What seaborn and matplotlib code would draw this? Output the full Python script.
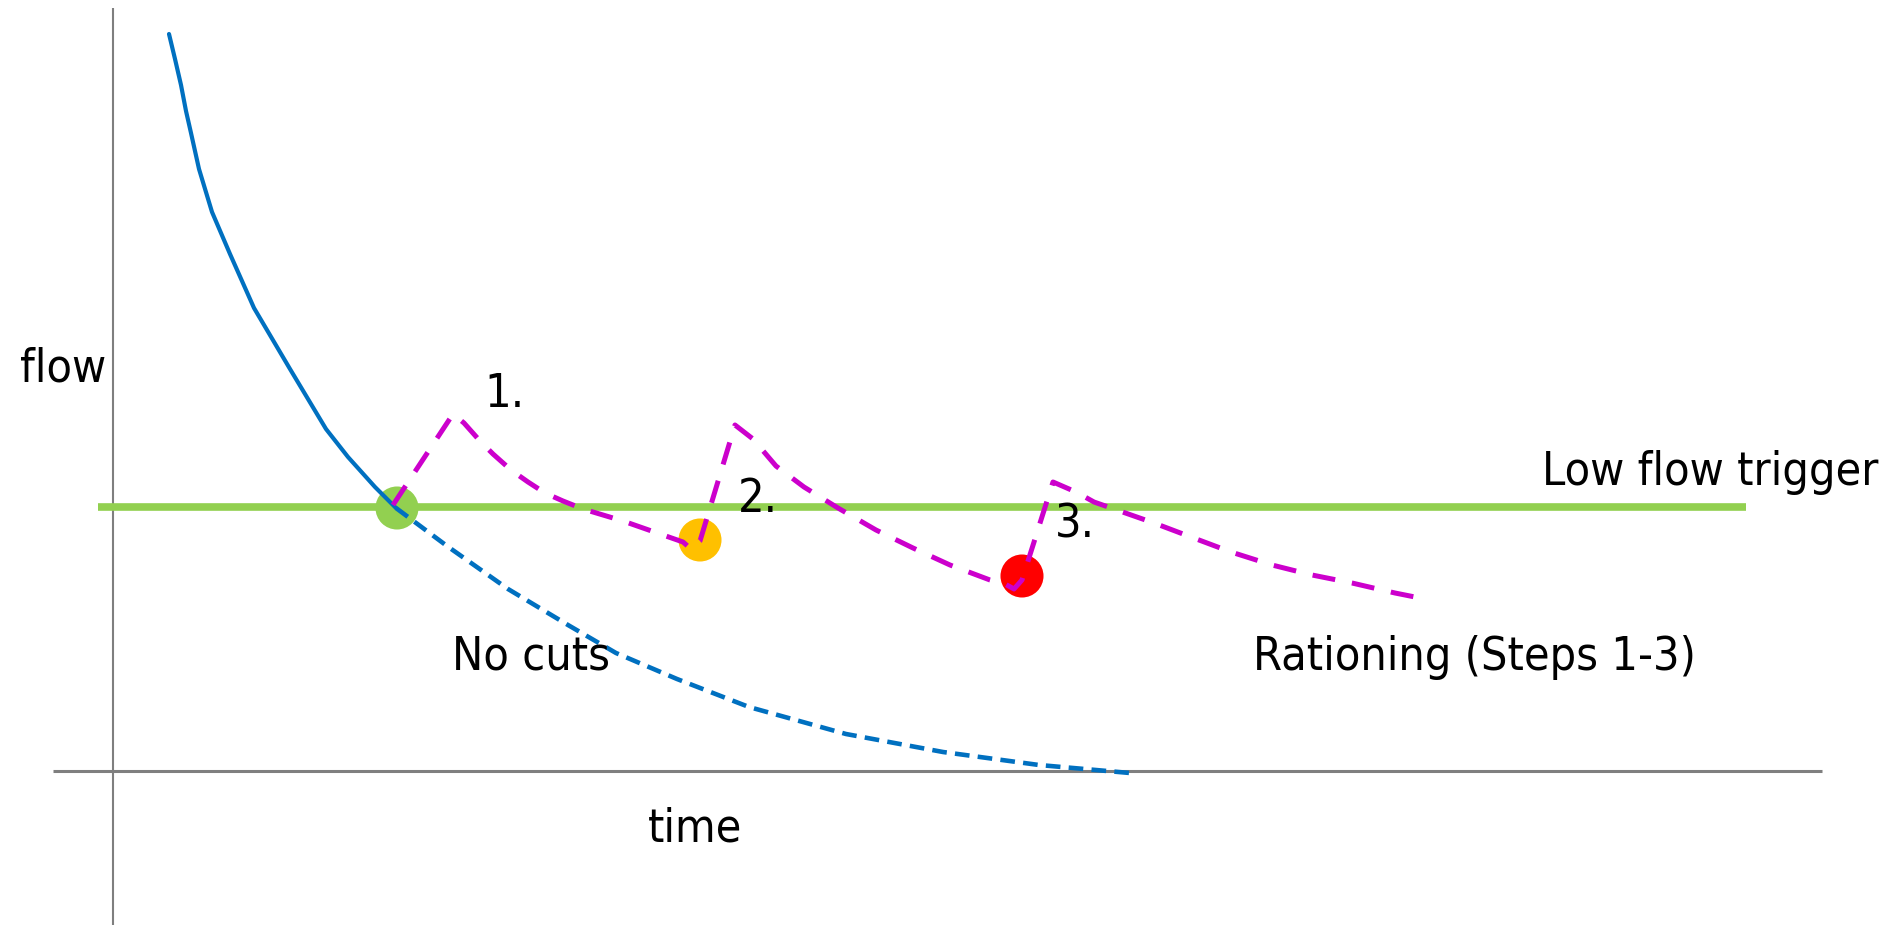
import matplotlib
matplotlib.use("Agg")
import matplotlib.pyplot as plt
import seaborn as sns

# ---------------- data (time, flow) ----------------
no_cuts_solid_t = [56, 62, 68, 73, 78, 86, 99, 117, 141, 177, 213, 235, 262, 283]
no_cuts_solid_f = [737, 712, 686, 660, 638, 602, 559, 517, 463, 402, 342, 314, 284, 263]

no_cuts_dash_t = [283, 334, 395, 455, 503, 564, 636, 733, 830, 926, 1017]
no_cuts_dash_f = [263, 225, 182, 146, 118, 92, 64, 37, 19, 6, -2]

ration_t = [280, 340, 351, 367, 380, 398, 415, 432, 450, 470, 490, 510, 530, 550,
            570, 578, 587, 622, 640, 663, 691, 725, 763, 800, 837, 877, 892,
            901, 909, 940, 963, 981, 1001, 1041, 1078, 1118, 1159, 1199, 1239,
            1282, 1317]
ration_f = [266, 357, 348, 330, 317, 301, 289, 278, 270, 262, 256, 250, 243, 236,
            229, 222, 230, 346, 332, 305, 284, 263, 241, 223, 206, 191, 187,
            182, 191, 289, 279, 269, 262, 248, 234, 219, 206, 196, 188,
            178, 171]

trigger_t = [-15, 1633]
trigger_f = [264, 264]

step_t = [284, 587, 909]
step_f = [263, 231, 195]
step_colors = ["#92D050", "#FFC000", "#FF0000"]

step_labels = ["1.", "2.", "3."]
step_label_t = [371, 625, 942]
step_label_f = [364, 259, 233]

# axes extents
xaxis_t = [-60, 1709]
yaxis_f = [-154, 763]

sns.set_theme(style="white")
plt.rcParams["font.family"] = ["DejaVu Sans"]

fig = plt.figure(figsize=(18.95, 9.25), dpi=100)
ax = fig.add_axes([0, 0, 1, 1])
ax.set_xlim(-113, 1782)
ax.set_ylim(-154, 771)
ax.axis("off")

# coordinate axes
ax.plot(xaxis_t, [0, 0], color="#7F7F7F", lw=2.2, solid_capstyle="butt", zorder=1)
ax.plot([0, 0], yaxis_f, color="#7F7F7F", lw=1.5, solid_capstyle="butt", zorder=1)

# low flow trigger
sns.lineplot(x=trigger_t, y=trigger_f, ax=ax, color="#92D050", lw=5.5, zorder=2)
ax.lines[-1].set_solid_capstyle("butt")

# step markers
sns.scatterplot(x=step_t, y=step_f, hue=step_labels, palette=step_colors, s=960,
                edgecolor="none", legend=False, ax=ax, zorder=3)

# no cuts
sns.lineplot(x=no_cuts_solid_t, y=no_cuts_solid_f, sort=False, ax=ax,
             color="#0070C0", lw=3.0, zorder=4)
ax.lines[-1].set_solid_joinstyle("round")
sns.lineplot(x=no_cuts_dash_t, y=no_cuts_dash_f, sort=False, ax=ax,
             color="#0070C0", lw=3.3, zorder=4)
ax.lines[-1].set_dashes((3.2, 1.8))
ax.lines[-1].set_dash_capstyle("butt")

# rationing
sns.lineplot(x=ration_t, y=ration_f, sort=False, ax=ax,
             color="#CC00CC", lw=3.6, zorder=5)
ax.lines[-1].set_dashes((4.6, 3.4))
ax.lines[-1].set_dash_capstyle("butt")

fkw = dict(fontsize=33.5, color="black", fontstretch="condensed",
           ha="left", va="baseline", zorder=6)
ax.text(-93, 389, "flow", **fkw)
ax.text(535, -71, "time", **fkw)
ax.text(1429, 286, "Low flow trigger", **fkw)
ax.text(339, 101, "No cuts", **fkw)
ax.text(1140, 101, "Rationing (Steps 1-3)", **fkw)
for lab, t, f in zip(step_labels, step_label_t, step_label_f):
    ax.text(t, f, lab, **fkw)

fig.savefig("out.png", dpi=100, facecolor="white")
